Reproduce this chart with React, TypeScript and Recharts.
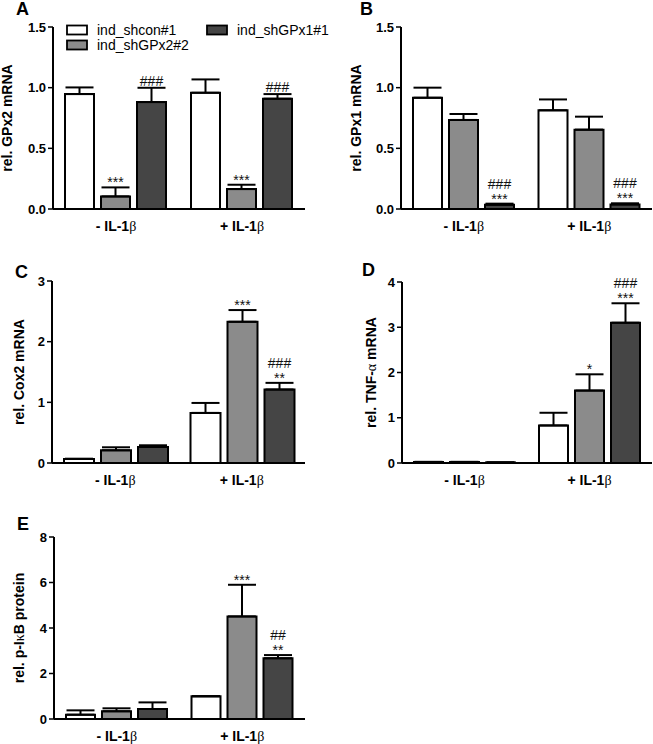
import React from 'react';
import { BarChart, Bar, XAxis, YAxis, ErrorBar, LabelList, Legend } from 'recharts';

const FONT = "'Liberation Sans', Arial, sans-serif";
const SERIF = "'Liberation Serif', 'DejaVu Serif', serif";

const categories = ['- IL-1β', '+ IL-1β'];
const seriesNames = ['ind_shcon#1', 'ind_shGPx2#2', 'ind_shGPx1#1'];
const seriesKeys = ['shcon', 'shGPx2', 'shGPx1'];
const seriesColors = ['#ffffff', '#8b8b8b', '#454545'];

// Panel A: rel. GPx2 mRNA
const aShcon = [0.947, 0.958];
const aShconErr = [0.055, 0.11];
const aShGPx2 = [0.104, 0.164];
const aShGPx2Err = [0.074, 0.036];
const aShGPx1 = [0.881, 0.909];
const aShGPx1Err = [0.118, 0.038];
const aSigShGPx2 = ['***', '***'];
const aSigShGPx1 = ['###', '###'];
const aTicks = [0, 0.5, 1.0, 1.5];

// Panel B: rel. GPx1 mRNA
const bShcon = [0.917, 0.813];
const bShconErr = [0.083, 0.09];
const bShGPx2 = [0.734, 0.654];
const bShGPx2Err = [0.049, 0.107];
const bShGPx1 = [0.036, 0.038];
const bShGPx1Err = [0.008, 0.009];
const bSigShGPx2 = ['', ''];
const bSigShGPx1 = ['###\n***', '###\n***'];
const bTicks = [0, 0.5, 1.0, 1.5];

// Panel C: rel. Cox2 mRNA
const cShcon = [0.066, 0.826];
const cShconErr = [0.005, 0.164];
const cShGPx2 = [0.209, 2.328];
const cShGPx2Err = [0.05, 0.193];
const cShGPx1 = [0.264, 1.211];
const cShGPx1Err = [0.028, 0.11];
const cSigShGPx2 = ['', '***'];
const cSigShGPx1 = ['', '###\n**'];
const cTicks = [0, 1, 2, 3];

// Panel D: rel. TNF-α mRNA
const dShcon = [0.022, 0.83];
const dShconErr = [0.004, 0.28];
const dShGPx2 = [0.022, 1.6];
const dShGPx2Err = [0.004, 0.36];
const dShGPx1 = [0.012, 3.1];
const dShGPx1Err = [0.003, 0.43];
const dSigShGPx2 = ['', '*'];
const dSigShGPx1 = ['', '###\n***'];
const dTicks = [0, 1, 2, 3, 4];

// Panel E: rel. p-IκB protein
const eShcon = [0.19, 1.0];
const eShconErr = [0.19, 0];
const eShGPx2 = [0.34, 4.51];
const eShGPx2Err = [0.13, 1.39];
const eShGPx1 = [0.44, 2.67];
const eShGPx1Err = [0.29, 0.14];
const eSigShGPx2 = ['', '***'];
const eSigShGPx1 = ['', '##\n**'];
const eTicks = [0, 2, 4, 6, 8];

function buildRows(means: number[][], errs: number[][]) {
  return categories.map((cat, i) => {
    const row: any = { cat, idx: i };
    seriesKeys.forEach((k, s) => {
      row[k] = means[s][i];
      row[k + '_err'] = [0, errs[s][i]];
    });
    return row;
  });
}

function mixed(str: string) {
  const parts = str.split(/([α-ωΑ-Ω])/).filter((p) => p.length > 0);
  return parts.map((p, i) =>
    /[α-ωΑ-Ω]/.test(p) ? (
      <tspan key={i} fontFamily={SERIF} fontWeight="normal">
        {p}
      </tspan>
    ) : (
      <tspan key={i}>{p}</tspan>
    )
  );
}

type PanelCfg = {
  chartLeft: number;
  chartTop: number;
  chartW: number;
  chartH: number;
  plotL: number;
  plotT: number;
  plotR: number;
  plotB: number;
  means: number[][];
  errs: number[][];
  sigs: string[][];
  ticks: number[];
  decimals: number;
  title: string;
  titleX: number;
  legend?: boolean;
};

function LegendContent() {
  const items = [
    { x: 0, row: 0 },
    { x: 0, row: 1 },
    { x: 140, row: 0 },
  ];
  return (
    <svg width={300} height={34} style={{ display: 'block', overflow: 'visible' }}>
      {seriesNames.map((name, i) => {
        const it = items[i];
        const cy = 8 + it.row * 15;
        return (
          <g key={name}>
            <rect
              x={it.x + 1}
              y={cy - 4.5}
              width={20}
              height={9}
              fill={seriesColors[i]}
              stroke="#000"
              strokeWidth={1.8}
            />
            <text x={it.x + 31} y={cy + 5} fontSize={14} fontFamily={FONT} fill="#000">
              {name}
            </text>
          </g>
        );
      })}
    </svg>
  );
}

function Panel({ cfg }: { cfg: PanelCfg }) {
  const xAxisH = 30;
  const margin = {
    top: cfg.plotT - cfg.chartTop,
    right: cfg.chartLeft + cfg.chartW - cfg.plotR,
    bottom: cfg.chartTop + cfg.chartH - cfg.plotB - xAxisH,
    left: 0,
  };
  const yWidth = cfg.plotL - cfg.chartLeft;
  const yMax = cfg.ticks[cfg.ticks.length - 1];
  const pxPerUnit = (cfg.plotB - cfg.plotT) / yMax;
  const data = buildRows(cfg.means, cfg.errs);
  const titleCx = cfg.titleX - cfg.chartLeft;
  const titleCy = (cfg.plotT + cfg.plotB) / 2 - cfg.chartTop;

  const makeSigContent = (s: number) => (props: any) => {
    const vb = props.viewBox || {};
    const x = vb.x ?? props.x;
    const y = vb.y ?? props.y;
    const w = vb.width ?? props.width;
    const i = Number(props.value);
    const sig = cfg.sigs[s][i];
    if (!sig) return null;
    const errTop = y - cfg.errs[s][i] * pxPerUnit;
    const lines = sig.split('\n');
    const n = lines.length;
    return (
      <g>
        {lines.map((ln, j) => {
          const isStar = ln.startsWith('*');
          const base = errTop - (isStar ? 0 : 2) - (n - 1 - j) * 13;
          return (
            <text
              key={j}
              x={x + w / 2}
              y={base}
              textAnchor="middle"
              fontSize={14}
              fontFamily={FONT}
              fill="#111"
            >
              {ln}
            </text>
          );
        })}
      </g>
    );
  };

  return (
    <div
      style={{
        position: 'absolute',
        left: cfg.chartLeft,
        top: cfg.chartTop,
        width: cfg.chartW,
        height: cfg.chartH,
      }}
    >
      <BarChart
        width={cfg.chartW}
        height={cfg.chartH}
        data={data}
        margin={margin}
        barCategoryGap={12}
        barGap={7}
      >
        <XAxis
          dataKey="cat"
          height={xAxisH}
          interval={0}
          tickLine={false}
          tickSize={0}
          tickMargin={0}
          axisLine={{ stroke: '#000', strokeWidth: 2 }}
          tick={(p: any) => (
            <text
              x={p.x}
              y={p.y + 22}
              textAnchor="middle"
              fontSize={14}
              fontWeight="bold"
              fontFamily={FONT}
              fill="#000"
            >
              {mixed(p.payload.value)}
            </text>
          )}
        />
        <YAxis
          width={yWidth}
          domain={[0, yMax]}
          ticks={cfg.ticks}
          interval={0}
          tickSize={5}
          tickMargin={2}
          tickFormatter={(v: number) => v.toFixed(cfg.decimals)}
          axisLine={{ stroke: '#000', strokeWidth: 2 }}
          tickLine={{ stroke: '#000', strokeWidth: 1.5 }}
          tick={{ fill: '#000', fontSize: 13, fontWeight: 'bold', fontFamily: FONT }}
          label={() => (
            <text
              x={titleCx + 5}
              y={titleCy}
              transform={`rotate(-90, ${titleCx + 5}, ${titleCy})`}
              textAnchor="middle"
              fontSize={14}
              fontWeight="bold"
              fontFamily={FONT}
              fill="#000"
            >
              {mixed(cfg.title)}
            </text>
          )}
        />
        {cfg.legend && (
          <Legend
            layout="horizontal"
            verticalAlign="middle"
            align="center"
            content={() => <LegendContent />}
            wrapperStyle={{ position: 'absolute', left: 66 - cfg.chartLeft, top: 22 - cfg.chartTop, width: 300, height: 34 }}
          />
        )}
        {seriesKeys.map((k, s) => (
          <Bar
            key={k}
            dataKey={k}
            name={seriesNames[s]}
            fill={seriesColors[s]}
            stroke="#000"
            strokeWidth={2}
            isAnimationActive={false}
          >
            <ErrorBar dataKey={k + '_err'} width={14} stroke="#000" strokeWidth={2} direction="y" />
            <LabelList dataKey="idx" content={makeSigContent(s)} />
          </Bar>
        ))}
      </BarChart>
    </div>
  );
}

const panels: PanelCfg[] = [
  {
    chartLeft: 0, chartTop: 0, chartW: 320, chartH: 240,
    plotL: 53, plotT: 27, plotR: 305, plotB: 209,
    means: [aShcon, aShGPx2, aShGPx1], errs: [aShconErr, aShGPx2Err, aShGPx1Err],
    sigs: [['', ''], aSigShGPx2, aSigShGPx1], ticks: aTicks, decimals: 1,
    title: 'rel. GPx2 mRNA', titleX: 7, legend: true,
  },
  {
    chartLeft: 330, chartTop: 0, chartW: 323, chartH: 240,
    plotL: 401, plotT: 27, plotR: 652, plotB: 209,
    means: [bShcon, bShGPx2, bShGPx1], errs: [bShconErr, bShGPx2Err, bShGPx1Err],
    sigs: [['', ''], bSigShGPx2, bSigShGPx1], ticks: bTicks, decimals: 1,
    title: 'rel. GPx1 mRNA', titleX: 356,
  },
  {
    chartLeft: 0, chartTop: 240, chartW: 320, chartH: 250,
    plotL: 52, plotT: 281, plotR: 305, plotB: 463,
    means: [cShcon, cShGPx2, cShGPx1], errs: [cShconErr, cShGPx2Err, cShGPx1Err],
    sigs: [['', ''], cSigShGPx2, cSigShGPx1], ticks: cTicks, decimals: 0,
    title: 'rel. Cox2 mRNA', titleX: 19,
  },
  {
    chartLeft: 330, chartTop: 240, chartW: 323, chartH: 250,
    plotL: 402, plotT: 282, plotR: 652, plotB: 463,
    means: [dShcon, dShGPx2, dShGPx1], errs: [dShconErr, dShGPx2Err, dShGPx1Err],
    sigs: [['', ''], dSigShGPx2, dSigShGPx1], ticks: dTicks, decimals: 0,
    title: 'rel. TNF-α mRNA', titleX: 371,
  },
  {
    chartLeft: 0, chartTop: 490, chartW: 320, chartH: 254,
    plotL: 54, plotT: 537, plotR: 305, plotB: 719,
    means: [eShcon, eShGPx2, eShGPx1], errs: [eShconErr, eShGPx2Err, eShGPx1Err],
    sigs: [['', ''], eSigShGPx2, eSigShGPx1], ticks: eTicks, decimals: 0,
    title: 'rel. p-IκB protein', titleX: 19,
  },
];

const panelLetters = ['A', 'B', 'C', 'D', 'E'];
const letterPos = [
  [16, 15],
  [360, 15],
  [15, 278],
  [362, 276],
  [17, 530],
];

export default function App() {
  return (
    <div style={{ position: 'absolute', left: 0, top: 0, width: 653, height: 744, background: '#fff', overflow: 'hidden' }}>
      {panels.map((p, i) => (
        <Panel key={i} cfg={p} />
      ))}
      <svg
        width={653}
        height={744}
        style={{ position: 'absolute', left: 0, top: 0, pointerEvents: 'none' }}
      >
        {panelLetters.map((l, i) => (
          <text
            key={l}
            x={letterPos[i][0]}
            y={letterPos[i][1]}
            fontSize={18}
            fontWeight="bold"
            fontFamily={FONT}
            fill="#000"
          >
            {l}
          </text>
        ))}
      </svg>
    </div>
  );
}
